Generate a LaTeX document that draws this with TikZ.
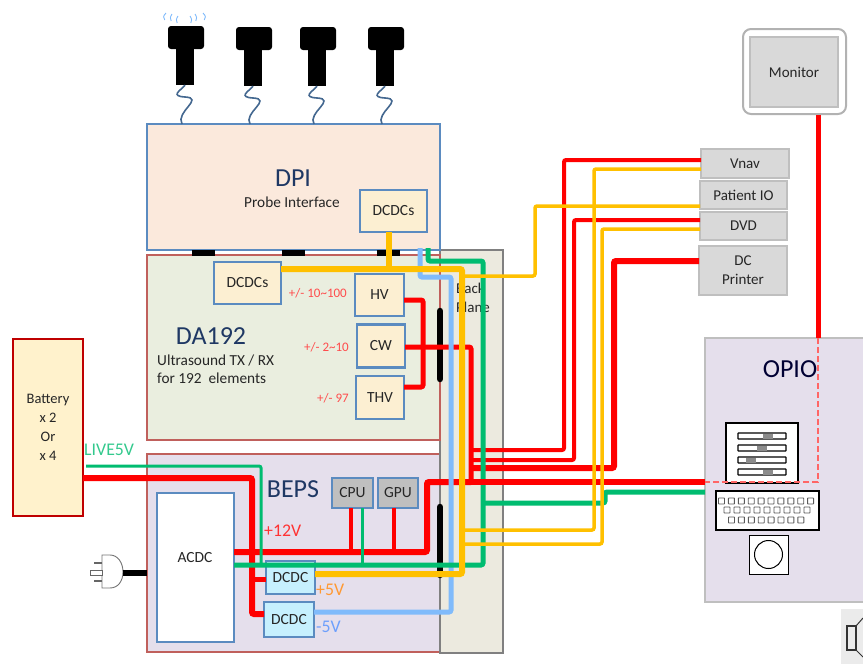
\documentclass[tikz,border=0pt]{standalone}
\usepackage{fontspec}
\setmainfont{Carlito}
\usetikzlibrary{positioning, calc}

\definecolor{bluedge}{HTML}{5B8BC0}
\definecolor{rededge}{HTML}{C0605C}
\definecolor{navy}{HTML}{1F3864}
\definecolor{wirered}{HTML}{FF0000}
\definecolor{wireyellow}{HTML}{FFC000}
\definecolor{wiregreen}{HTML}{00BC70}
\definecolor{wireblue}{HTML}{80BBFB}
\definecolor{dpifill}{HTML}{FBE9DC}
\definecolor{dafill}{HTML}{EAEEDF}
\definecolor{lilacfill}{HTML}{E5DFEC}
\definecolor{backfill}{HTML}{ECEADF}
\definecolor{creamfill}{HTML}{FCEFD2}
\definecolor{cyanfill}{HTML}{C6F0FE}
\definecolor{batteryfill}{HTML}{FFF2CC}

\begin{document}
\begin{tikzpicture}[
  x=1pt, y=-1pt,
  box/.style={draw, rectangle, inner sep=0pt, outer sep=0pt, align=center, line width=2pt, text=black!85, font=\fontsize{15.5}{19}\selectfont},
  board/.style={box, draw=rededge, line width=2.4pt},
  module/.style={box, draw=bluedge, line width=2.6pt, fill=#1},
  device/.style={box, draw=black!25, fill=black!15, line width=2.4pt, font=\fontsize{15}{19}\selectfont},
  title/.style={text=navy, inner sep=0pt, font=\fontsize{26}{28}\selectfont},
  caption/.style={text=black!85, inner sep=0pt, align=left, font=\fontsize{15.3}{18}\selectfont},
  volt/.style={inner sep=0pt, text=#1, font=\fontsize{17.8}{19}\selectfont},
  voltrange/.style={inner sep=0pt, text=red!70, font=\fontsize{13}{15}\selectfont},
  wire/.style={line width=#1, rounded corners=2pt},
  redwire/.style={wire=#1, draw=wirered},
  yellowwire/.style={wire=#1, draw=wireyellow},
  greenwire/.style={wire=#1, draw=wiregreen},
  bluewire/.style={wire=#1, draw=wireblue},
  busbar/.style={line width=6.5pt, draw=black, line cap=round},
  probehead/.style={draw=none, fill=black, rounded corners=3pt, inner sep=0pt, minimum width=36pt, minimum height=23pt},
  probestem/.style={draw=none, fill=black, inner sep=0pt, minimum width=18pt, minimum height=36pt},
  coil/.style={draw=bluedge!75!black, line width=1.6pt},
  sliderbar/.style={draw=black, fill=white, line width=1.2pt, inner sep=0pt, minimum width=48pt, minimum height=6pt, rounded corners=0.5pt},
  sliderthumb/.style={draw=none, fill=black!45, inner sep=0pt, minimum width=10pt, minimum height=5pt},
  keycap/.style={draw=black!65, fill=white, line width=0.9pt, inner sep=0pt, minimum size=6pt, rounded corners=0.5pt}
]
\useasboundingbox (0,0) rectangle (863,664);

\node[board, fill=lilacfill, minimum width=293pt, minimum height=198pt] (beps) at (293.5,553) {};
\node[box, draw=black!50, fill=backfill, line width=2.4pt, minimum width=63pt, minimum height=403pt] (back) at (471.5,451.5) {};
\node[board, fill=dafill, minimum width=293pt, minimum height=185pt] (da) at (293.5,347.5) {};
\node[module=dpifill, minimum width=293pt, minimum height=126pt] (dpi) at (293.5,187) {};
\node[box, draw=red!75!black, fill=batteryfill, minimum width=70pt, minimum height=177pt, font=\fontsize{14.5}{19}\selectfont] (battery) at (48,427.5) {Battery\\x 2\\Or\\x 4};
\node[box, draw=black!25, fill=lilacfill, line width=2.4pt, minimum width=170pt, minimum height=264pt] (opio) at (790,470) {};

\node[title] (dpilabel) at (293,178) {DPI};
\node[caption] (dpitext) at (292,202) {Probe Interface};
\node[title] (dalabel) at (211,336) {DA192};
\node[caption, anchor=north west] (datext) at (157,355) {Ultrasound TX / RX\\for 192 \ elements};
\node[title] (bepslabel) at (293,489) {BEPS};
\node[title, text=black!80!blue] (opiolabel) at (790,369) {OPIO};
\node[caption, anchor=north west, font=\fontsize{15}{19}\selectfont] (backtext) at (456,283) {Back\\Plane};

\node[module=creamfill, minimum width=67pt, minimum height=42pt] (dcdctop) at (393.5,211) {DCDCs};
\node[module=creamfill, minimum width=67pt, minimum height=42pt] (dcdcda) at (247.5,283) {DCDCs};
\node[module=creamfill, minimum width=49pt, minimum height=42pt] (hv) at (379.5,295) {HV};
\node[module=creamfill, minimum width=48pt, minimum height=43pt] (cw) at (381,346) {CW};
\node[module=creamfill, minimum width=48pt, minimum height=43pt] (thv) at (380,397.5) {THV};
\node[module=white, minimum width=77pt, minimum height=149pt] (acdc) at (195.5,567.5) {};
\node[box, draw=none] (acdctext) at (195,558) {ACDC};
\node[module=black!25, minimum width=41pt, minimum height=30pt] (cpu) at (352.5,493) {CPU};
\node[module=black!25, minimum width=40pt, minimum height=30pt] (gpu) at (398,493) {GPU};
\node[module=cyanfill, minimum width=49pt, minimum height=33pt] (dcdca) at (290.5,577.5) {DCDC};
\node[module=cyanfill, minimum width=50pt, minimum height=35pt] (dcdcb) at (289,619.5) {DCDC};

\node[device, minimum width=88pt, minimum height=29pt] (vnav) at (745,163.5) {Vnav};
\node[device, minimum width=87pt, minimum height=28pt] (patient) at (743.5,195) {Patient IO};
\node[device, minimum width=87pt, minimum height=28pt] (dvd) at (743.5,226) {DVD};
\node[device, minimum width=88pt, minimum height=49pt] (printer) at (743,270.5) {DC\\Printer};
\node[draw=black!30, fill=white, line width=2pt, rounded corners=8pt, inner sep=0pt, minimum width=103pt, minimum height=85pt] (monitorframe) at (794.5,71.5) {};
\node[device, minimum width=88pt, minimum height=70pt] (monitor) at (794,72) {Monitor};

\node[voltrange, anchor=east] (hvrange) at (347,293) {+/- 10\textasciitilde 100};
\node[voltrange, anchor=east] (cwrange) at (349,347) {+/- 2\textasciitilde 10};
\node[voltrange, anchor=east] (thvrange) at (349,398) {+/- 97};
\node[volt=wiregreen!80!white, anchor=west] (livelabel) at (84,450) {LIVE5V};
\node[volt=red!80, anchor=west] (twelvelabel) at (264,531) {+12V};
\node[volt=orange!80, anchor=west] (fivelabel) at (316,590) {+5V};
\node[volt=wireblue!85!blue, anchor=west] (minuslabel) at (316,627) {-5V};

\foreach \i/\x/\y in {1/0/0, 2/68/1, 3/132/1, 4/200/1} {
  \node[probehead] (head\i) at ({186+\x},{37.5+\y}) {};
  \node[probestem] (stem\i) at ({185+\x},{67+\y}) {};
  \draw[coil] (stem\i.south) .. controls ({180+\x},{91+\y}) and ({170+\x},{96+\y}) .. ({185+\x},{97+\y})
    .. controls ({205+\x},{98+\y}) and ({175+\x},{112+\y}) .. (dpi.north -| {182+\x},0);
}
\foreach \x/\a/\b in {166/-3/13, 172/-2/14, 178/-2/16, 190/2/16, 195/2/14, 203/3/13}
  \draw[wireblue, line width=0.9pt] (\x,\b) .. controls ({\x+\a},{\b+3}) and ({\x+\a},{\b+5}) .. ({\x+0.4*\a},{\b+7});

\draw[black!55, line width=0.9pt] (102,555) -- (110,555) .. controls (118,555) and (123,563) .. (123,572)
  .. controls (123,581) and (118,588) .. (110,588) -- (102,588) -- cycle;
\draw[black!60, line width=1.2pt] (102,563) -- (94,563) (102,581) -- (94,581);
\draw[black!60, fill=white, line width=0.7pt] (90,570) rectangle (102,575);
\coordinate (plug) at (123,573);
\draw[black, line width=6pt] (plug) -- (beps.west |- plug);

\foreach \x in {203.5, 293.5, 388}
  \draw[line width=6pt] ({\x-11.5},253) -- ({\x+11.5},253);
\draw[busbar] (back.west |- 0,311) -- (back.west |- 0,379);
\draw[busbar] (back.west |- 0,507) -- (back.west |- 0,575);

\draw[redwire=5pt] (hv.east |- 0,300) -- (423,300) -- (423,387) -- (thv.east |- 0,387);
\draw[redwire=5pt] (cw.east |- 0,347) -- (471,347) -- (471,482);
\draw[redwire=4pt] (471,450) -- (564,450) -- (564,160) -- (vnav.west |- 0,160);
\draw[redwire=4pt] (471,460) -- (574,460) -- (574,220) -- (dvd.west |- 0,220);
\draw[redwire=6pt] (471,468) -- (614,468) -- (614,261) -- (printer.west |- 0,261);
\draw[redwire=6pt] (acdc.east |- 0,552) -- (427,552) -- (427,482) -- (471,482);
\draw[redwire=4pt] (cpu.south -| 351,0) -- (351,552);
\draw[redwire=4pt] (gpu.south -| 394,0) -- (394,552);
\draw[redwire=6pt] (battery.east |- 0,478) -- (252,478) -- (252,614) -- (dcdcb.west |- 0,614);
\draw[redwire=5pt] (252,579) -- (dcdca.west |- 0,579);

\draw[bluewire=5pt] (dcdcb.east |- 0,612) -- (451,612) -- (451,277) -- (420,277) -- (420,248);
\draw[greenwire=5pt] (acdc.east |- 0,565) -- (483,565) -- (483,261) -- (428,261) -- (428,248);
\draw[greenwire=5pt] (483,503) -- (605,503) -- (605,492) -- (opio.west |- 0,492);
\draw[greenwire=3pt, shorten <=3pt] (battery.east |- 0,466) -- (261,466) -- (261,565);
\draw[greenwire=3pt] (cpu.south -| 362,0) -- (362,565);
\draw[redwire=6pt] (471,482) -- (opio.west |- 0,482);

\draw[yellowwire=6pt] (dcdca.east |- 0,574) -- (462,574) -- (462,269) -- (dcdcda.east |- 0,269);
\draw[yellowwire=6pt] (dcdctop.south -| 389,0) -- (389,269);
\draw[yellowwire=3.5pt] (462,276) -- (535,276) -- (535,206) -- (patient.west |- 0,206);
\draw[yellowwire=3.5pt] (462,530) -- (594,530) -- (594,169) -- (vnav.west |- 0,169);
\draw[yellowwire=3.5pt] (462,544) -- (602,544) -- (602,229) -- (dvd.west |- 0,229);

\draw[redwire=5pt] (monitorframe.south -| 818,0) -- (opio.north -| 818,0);

\node[draw=black, fill=white, line width=2pt, inner sep=0pt, minimum width=72pt, minimum height=60pt] (sliders) at (762,453) {};
\foreach \r/\y/\t in {1/436/768, 2/448/762, 3/460/751, 4/472/768} {
  \node[sliderbar] (bar\r) at (762,\y) {};
  \node[sliderthumb] (thumb\r) at (\t,\y) {};
}
\node[draw=black, fill=white, line width=1.2pt, inner sep=0pt, minimum width=103pt, minimum height=39pt] (keyboard) at (767.5,510.5) {};
\foreach \k in {0,...,9}
  \node[keycap] (keya\k) at ({721.5+9.9*\k},501) {};
\foreach \k in {0,...,8}
  \node[keycap] (keyb\k) at ({727+10*\k},510) {};
\foreach \k in {0,...,7}
  \node[keycap] (keyc\k) at ({731.5+9.9*\k},520) {};
\node[draw=black, fill=white, line width=1pt, inner sep=0pt, minimum size=39pt] (trackball) at (768.5,554.5) {};
\node[draw=black, circle, line width=1pt, inner sep=0pt, minimum size=28pt] (ball) at (trackball.center) {};

\draw[draw=wirered!60!white, line width=2.6pt, dash pattern=on 6pt off 3pt] (opio.north -| 818,0) -- (818,482) -- (opio.west |- 0,482);

\fill[black!8] (841,609) rectangle (863,664);
\draw[black!80, line width=1.4pt] (847,626) rectangle (856,650);
\draw[black!80, line width=1pt] (856,626) -- (863,618) (856,650) -- (863,657);
\end{tikzpicture}
\end{document}
